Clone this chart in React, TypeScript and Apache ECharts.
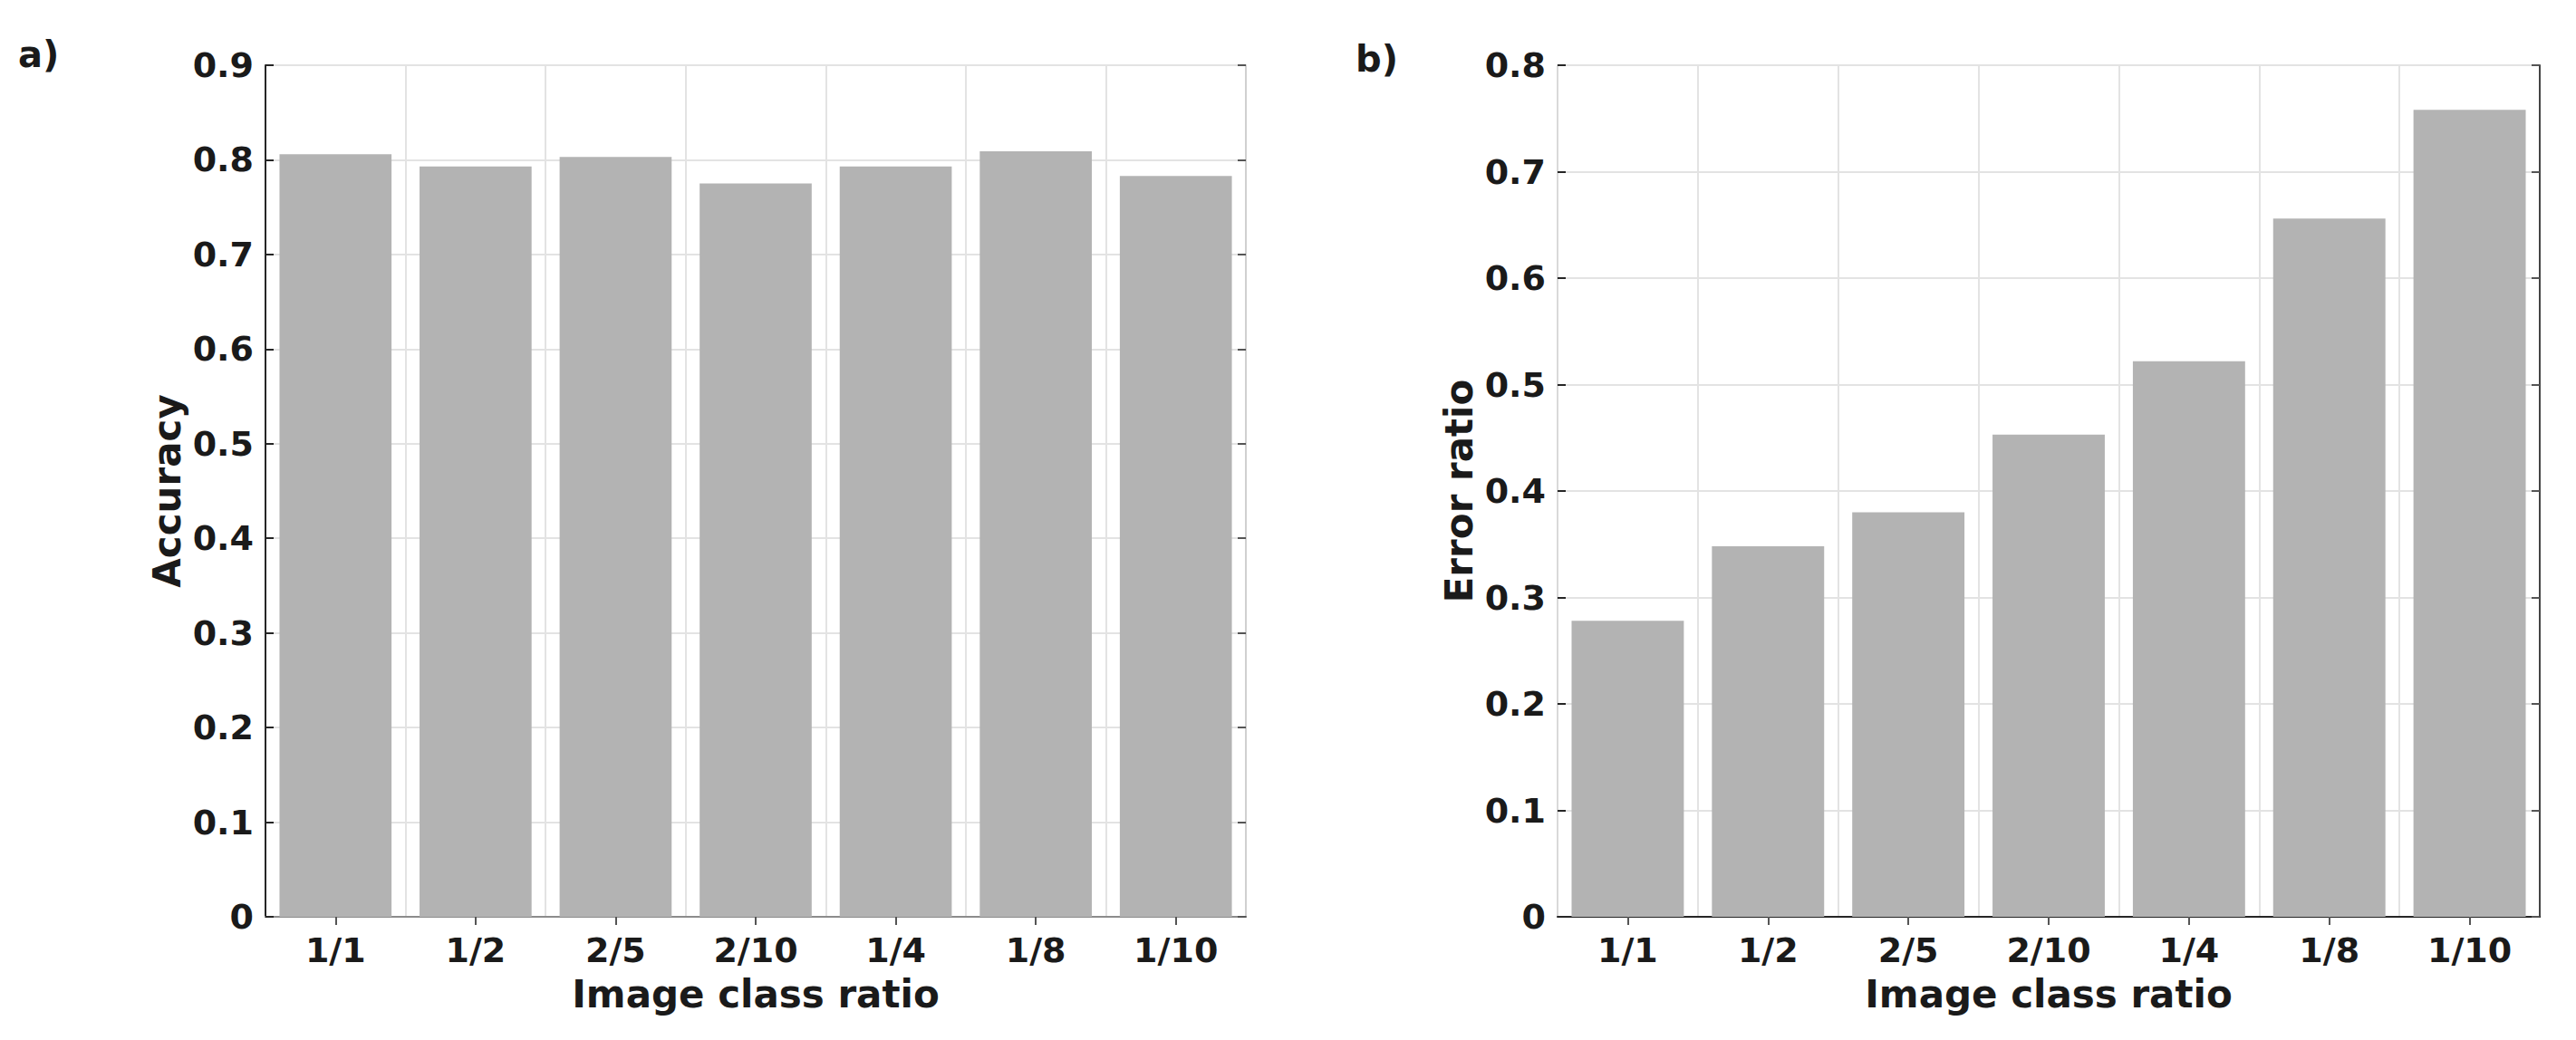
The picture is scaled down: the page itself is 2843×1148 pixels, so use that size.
import React, { useEffect, useRef } from "react";
import * as echarts from "echarts";

const categories = ["1/1", "1/2", "2/5", "2/10", "1/4", "1/8", "1/10"];
const accuracy = [0.806, 0.793, 0.803, 0.775, 0.793, 0.809, 0.783];
const errorRatio = [0.278, 0.348, 0.38, 0.453, 0.522, 0.656, 0.758];
const accuracyTicks = { min: 0, max: 0.9, interval: 0.1 };
const errorTicks = { min: 0, max: 0.8, interval: 0.1 };

const FONT = "'DejaVu Sans', sans-serif";
const DARK = "#262626";
const GRID = "#e3e3e3";
const BAR = "#b3b3b3";

const fmt = (v: number) => (v === 0 ? "0" : v.toFixed(1));

export default function App() {
  const ref = useRef<HTMLDivElement>(null);
  useEffect(() => {
    document.body.style.margin = "0";
    if (!ref.current) return;
    const chart = echarts.init(ref.current, undefined, { renderer: "svg" });
    const labelStyle = { fontFamily: FONT, fontWeight: "bold" as const, fontSize: 38, color: "#1a1a1a" };
    const nameStyle = { fontFamily: FONT, fontWeight: "bold" as const, fontSize: 42, color: "#1a1a1a" };
    const grids = [
      { left: 293, right: 1468, top: 72, bottom: 136 },
      { left: 1719, right: 40, top: 72, bottom: 136 },
    ];
    const xAxes: any[] = [];
    const yAxes: any[] = [];
    [0, 1].forEach((g) => {
      xAxes.push({
        type: "category",
        gridIndex: g,
        position: "bottom",
        data: categories,
        axisLine: { show: true, lineStyle: { color: DARK, width: 2 } },
        axisTick: { show: true, inside: true, alignWithLabel: true, length: 9, lineStyle: { color: DARK, width: 2 } },
        axisLabel: { ...labelStyle, margin: 18 },
        splitLine: { show: true, lineStyle: { color: GRID, width: 2 } },
        name: "Image class ratio",
        nameLocation: "middle",
        nameGap: 64,
        nameTextStyle: nameStyle,
      });
      xAxes.push({
        type: "category",
        gridIndex: g,
        position: "top",
        data: categories,
        axisLine: { show: g === 0, lineStyle: { color: "#8c8c8c", width: 2 } },
        axisTick: { show: true, inside: true, alignWithLabel: true, length: 9, lineStyle: { color: "#555", width: 2 } },
        axisLabel: { show: false },
        splitLine: { show: false },
      });
      const t = g === 0 ? accuracyTicks : errorTicks;
      yAxes.push({
        type: "value",
        gridIndex: g,
        position: "left",
        min: t.min,
        max: t.max,
        interval: t.interval,
        axisLine: { show: true, lineStyle: { color: g === 0 ? DARK : "#d9d9d9", width: 2 } },
        axisTick: { show: true, inside: true, length: 9, lineStyle: { color: DARK, width: 2 } },
        axisLabel: { ...labelStyle, margin: 13, formatter: fmt },
        splitLine: { show: true, lineStyle: { color: GRID, width: 2 } },
        name: g === 0 ? "Accuracy" : "Error ratio",
        nameLocation: "middle",
        nameRotate: 90,
        nameGap: 88,
        nameTextStyle: nameStyle,
      });
      yAxes.push({
        type: "value",
        gridIndex: g,
        position: "right",
        min: t.min,
        max: t.max,
        interval: t.interval,
        axisLine: { show: true, lineStyle: { color: g === 0 ? "#d0d0d0" : "#444", width: 2 } },
        axisTick: { show: true, inside: true, length: 9, lineStyle: { color: "#555", width: 2 } },
        axisLabel: { show: false },
        splitLine: { show: false },
      });
    });
    chart.setOption({
      animation: false,
      backgroundColor: "#ffffff",
      grid: grids,
      xAxis: xAxes,
      yAxis: yAxes,
      series: [
        {
          type: "bar",
          xAxisIndex: 0,
          yAxisIndex: 0,
          data: accuracy,
          barWidth: "80%",
          itemStyle: { color: BAR },
        },
        {
          type: "bar",
          xAxisIndex: 2,
          yAxisIndex: 2,
          data: errorRatio,
          barWidth: "80%",
          itemStyle: { color: BAR },
        },
      ],
      graphic: [
        { type: "text", left: 20, top: 40, style: { text: "a)", font: `bold 40px ${FONT}`, fill: "#1a1a1a" } },
        { type: "text", left: 1496, top: 45, style: { text: "b)", font: `bold 40px ${FONT}`, fill: "#1a1a1a" } },
      ],
    });
    return () => chart.dispose();
  }, []);
  return <div ref={ref} style={{ width: 2843, height: 1148 }} />;
}
